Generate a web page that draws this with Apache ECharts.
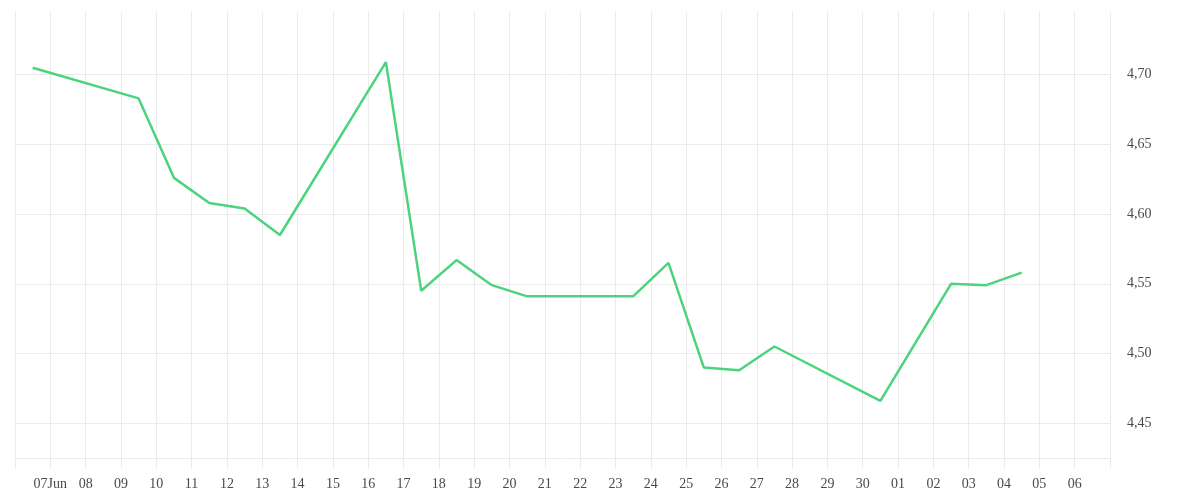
<!DOCTYPE html>
<html>
<head>
<meta charset="utf-8">
<script src="https://cdn.jsdelivr.net/npm/echarts@6/dist/echarts.min.js"></script>
<style>
html,body{margin:0;padding:0;background:#fff;}
#chart{width:1200px;height:500px;}
</style>
</head>
<body>
<div id="chart"></div>
<script>
// Dates of each observation (noon of the day)
var dates = ['2025-06-06 12:00','2025-06-09 12:00','2025-06-10 12:00','2025-06-11 12:00','2025-06-12 12:00','2025-06-13 12:00','2025-06-16 12:00','2025-06-17 12:00','2025-06-18 12:00','2025-06-19 12:00','2025-06-20 12:00','2025-06-23 12:00','2025-06-24 12:00','2025-06-25 12:00','2025-06-26 12:00','2025-06-27 12:00','2025-06-30 12:00','2025-07-02 12:00','2025-07-03 12:00','2025-07-04 12:00'];
var values = [4.705,4.683,4.626,4.608,4.604,4.585,4.709,4.545,4.567,4.549,4.541,4.541,4.565,4.490,4.488,4.505,4.466,4.550,4.549,4.558];
// X tick labels, one per day starting 7 June
var xTickLabels = ['07Jun','08','09','10','11','12','13','14','15','16','17','18','19','20','21','22','23','24','25','26','27','28','29','30','01','02','03','04','05','06'];
var xStart = '2025-06-06';
var xEnd = '2025-07-07';
var yMin = 4.425, yMax = 4.745;

var DAY = 86400000;
var startMs = new Date(xStart + 'T00:00:00').getTime();
var seriesData = dates.map(function (d, i) { return [d, values[i]]; });

var gridColor = '#ebebeb';
var labelFont = 'Liberation Serif';

var chart = echarts.init(document.getElementById('chart'));
chart.setOption({
  animation: false,
  grid: { left: 15, right: 90, top: 12, bottom: 42, containLabel: false },
  xAxis: {
    type: 'time',
    min: xStart + ' 00:00',
    max: xEnd + ' 00:00',
    minInterval: DAY,
    maxInterval: DAY,
    axisLine: { show: true, lineStyle: { color: gridColor, width: 1 } },
    axisTick: { show: true, length: 10, lineStyle: { color: gridColor } },
    splitLine: { show: true, lineStyle: { color: gridColor, width: 1 } },
    axisLabel: {
      color: '#4a4a4a',
      fontFamily: labelFont,
      fontSize: 14,
      margin: 19,
      hideOverlap: false,
      formatter: function (v) {
        var idx = Math.round((v - startMs) / DAY) - 1;
        return (idx >= 0 && idx < xTickLabels.length) ? xTickLabels[idx] : '';
      }
    }
  },
  yAxis: {
    type: 'value',
    position: 'right',
    min: yMin,
    max: yMax,
    splitNumber: 5,
    scale: true,
    axisLine: { show: false },
    axisTick: { show: false },
    splitLine: { show: true, showMinLine: false, showMaxLine: false, lineStyle: { color: gridColor, width: 1 } },
    axisLabel: {
      showMinLabel: false,
      showMaxLabel: false,
      color: '#4a4a4a',
      fontFamily: labelFont,
      fontSize: 14,
      margin: 17,
      padding: [5, 0, 0, 0],
      formatter: function (v) { return v.toFixed(2).replace('.', ','); }
    }
  },
  series: [{
    type: 'line',
    data: seriesData,
    showSymbol: false,
    symbol: 'none',
    lineStyle: { color: '#4cd37d', width: 2.5 },
    itemStyle: { color: '#4cd37d' }
  }]
});
</script>
</body>
</html>
